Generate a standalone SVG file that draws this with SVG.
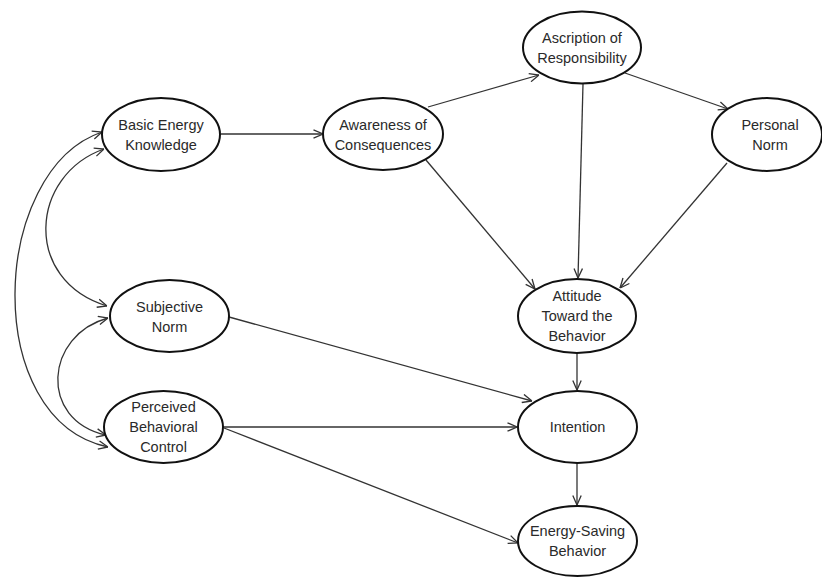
<svg xmlns="http://www.w3.org/2000/svg" width="822" height="577" viewBox="0 0 822 577">
<defs>
<marker id="ah" viewBox="0 0 10 10" refX="10" refY="5" markerWidth="10" markerHeight="10" markerUnits="userSpaceOnUse" orient="auto-start-reverse">
<path d="M0.5,0.8 L10,5 L0.5,9.2" fill="none" stroke="#333" stroke-width="1.3"/>
</marker>
</defs>
<style>
.n ellipse{fill:#fff;stroke:#111;stroke-width:2}
.n text{font-family:"Liberation Sans",Arial,sans-serif;font-size:14.5px;fill:#2a2a2a;text-anchor:middle}
#edges path,#edges line{fill:none;stroke:#333;stroke-width:1.3;marker-end:url(#ah)}
#edges .bi{marker-start:url(#ah)}
</style>
<rect width="822" height="577" fill="#fff"/>
<g id="edges">
<path class="bi" d="M102,132 C-10,170 -20,420 108,447"/>
<path class="bi" d="M104,149 C30,175 22,280 107,306"/>
<path class="bi" d="M108,318 C45,335 38,420 106,435"/>
<line x1="221" y1="134" x2="323" y2="134"/>
<line x1="428" y1="107" x2="539" y2="75"/>
<line x1="625" y1="73" x2="728" y2="109"/>
<line x1="583" y1="84" x2="578" y2="278"/>
<line x1="426" y1="160" x2="535" y2="289"/>
<line x1="727" y1="163" x2="620" y2="288"/>
<line x1="577" y1="353" x2="577" y2="390"/>
<line x1="229" y1="317" x2="532" y2="401"/>
<line x1="223" y1="427" x2="517" y2="427"/>
<line x1="224" y1="428" x2="518" y2="543"/>
<line x1="577" y1="463" x2="577" y2="505"/>
</g>
<g id="bek" class="n"><ellipse cx="161" cy="134.5" rx="59" ry="36.5"/><text x="161" y="130">Basic Energy</text><text x="161" y="150">Knowledge</text></g>
<g id="aoc" class="n"><ellipse cx="383" cy="134" rx="60" ry="36"/><text x="383" y="129.5">Awareness of</text><text x="383" y="149.5">Consequences</text></g>
<g id="aor" class="n"><ellipse cx="582" cy="47.5" rx="59" ry="36"/><text x="582" y="43">Ascription of</text><text x="582" y="63">Responsibility</text></g>
<g id="pn" class="n"><ellipse cx="767" cy="134.5" rx="55" ry="36.5"/><text x="770" y="130">Personal</text><text x="770" y="150">Norm</text></g>
<g id="sn" class="n"><ellipse cx="169.5" cy="316" rx="59.5" ry="36"/><text x="169.5" y="311.5">Subjective</text><text x="169.5" y="331.5">Norm</text></g>
<g id="atb" class="n"><ellipse cx="577" cy="316" rx="59" ry="37"/><text x="577" y="301">Attitude</text><text x="577" y="321">Toward the</text><text x="577" y="341">Behavior</text></g>
<g id="pbc" class="n"><ellipse cx="163.5" cy="427" rx="59.5" ry="36"/><text x="163.5" y="412">Perceived</text><text x="163.5" y="432">Behavioral</text><text x="163.5" y="452">Control</text></g>
<g id="int" class="n"><ellipse cx="577.5" cy="427" rx="59.5" ry="36"/><text x="577.5" y="432">Intention</text></g>
<g id="esb" class="n"><ellipse cx="577.5" cy="541" rx="59.5" ry="35"/><text x="577.5" y="536">Energy-Saving</text><text x="577.5" y="556">Behavior</text></g>
</svg>
